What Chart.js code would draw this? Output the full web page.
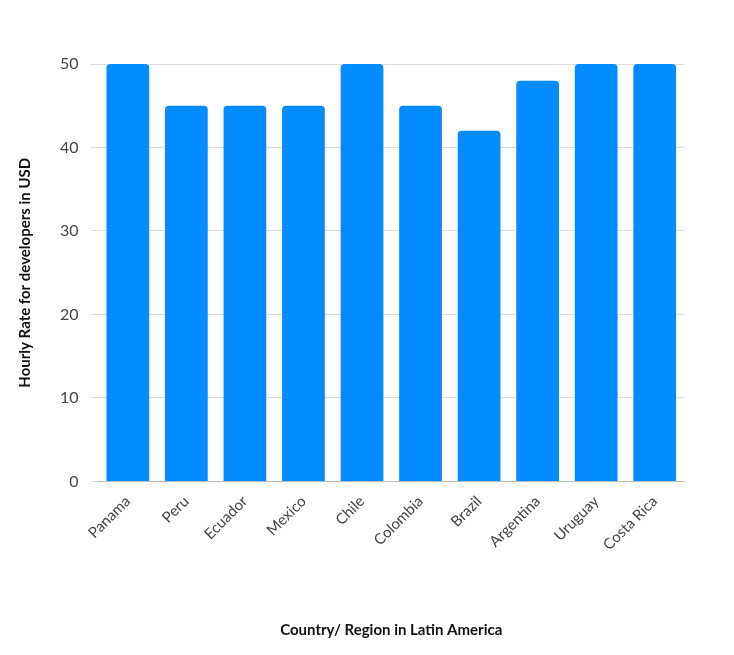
<!DOCTYPE html>
<html>
<head>
<meta charset="utf-8">
<script src="https://cdn.jsdelivr.net/npm/chart.js@4"></script>
<style>
  html, body { margin: 0; padding: 0; background: #fff; }
  #wrap { width: 734px; height: 655px; }
</style>
</head>
<body>
<div id="wrap"><canvas id="c"></canvas></div>
<script>
// categories and values
const countries = ["Panama", "Peru", "Ecuador", "Mexico", "Chile", "Colombia", "Brazil", "Argentina", "Uruguay", "Costa Rica"];
const hourlyRate = [50, 45, 45, 45, 50, 45, 42, 48, 50, 50];
const yTicks = [0, 10, 20, 30, 40, 50];

new Chart(document.getElementById("c"), {
    type: "bar",
    data: {
        labels: countries,
        datasets: [{
            data: hourlyRate,
            backgroundColor: "#038cff",
            borderRadius: { topLeft: 4, topRight: 4 },
            borderSkipped: "bottom",
            barPercentage: 0.73,
            categoryPercentage: 1
        }]
    },
    options: {
        responsive: true,
        maintainAspectRatio: false,
        animation: false,
        layout: { padding: { left: 12, right: 50, top: 64, bottom: 12 } },
        plugins: { legend: { display: false }, tooltip: { enabled: false } },
        scales: {
            x: {
                grid: { display: false },
                border: { color: "#bbbbbb" },
                ticks: {
                    minRotation: 45, maxRotation: 45,
                    color: "#444", font: { family: "Lato", size: 15 }
                },
                title: {
                    display: true, text: "Country/ Region in Latin America",
                    color: "#111", font: { family: "Lato", size: 15, weight: "bold" },
                    padding: { top: 64 }
                }
            },
            y: {
                min: 0, max: 50,
                afterBuildTicks: axis => { axis.ticks = yTicks.map(v => ({ value: v })); },
                grid: { color: "#dddddd" },
                border: { display: false },
                ticks: { color: "#444", padding: 12, font: { family: "Lato", size: 16 } },
                title: {
                    display: true, text: "Hourly Rate for developers in USD",
                    color: "#111", font: { family: "Lato", size: 15, weight: "bold" },
                    padding: { bottom: 14 }
                }
            }
        }
    }
});
</script>
</body>
</html>
